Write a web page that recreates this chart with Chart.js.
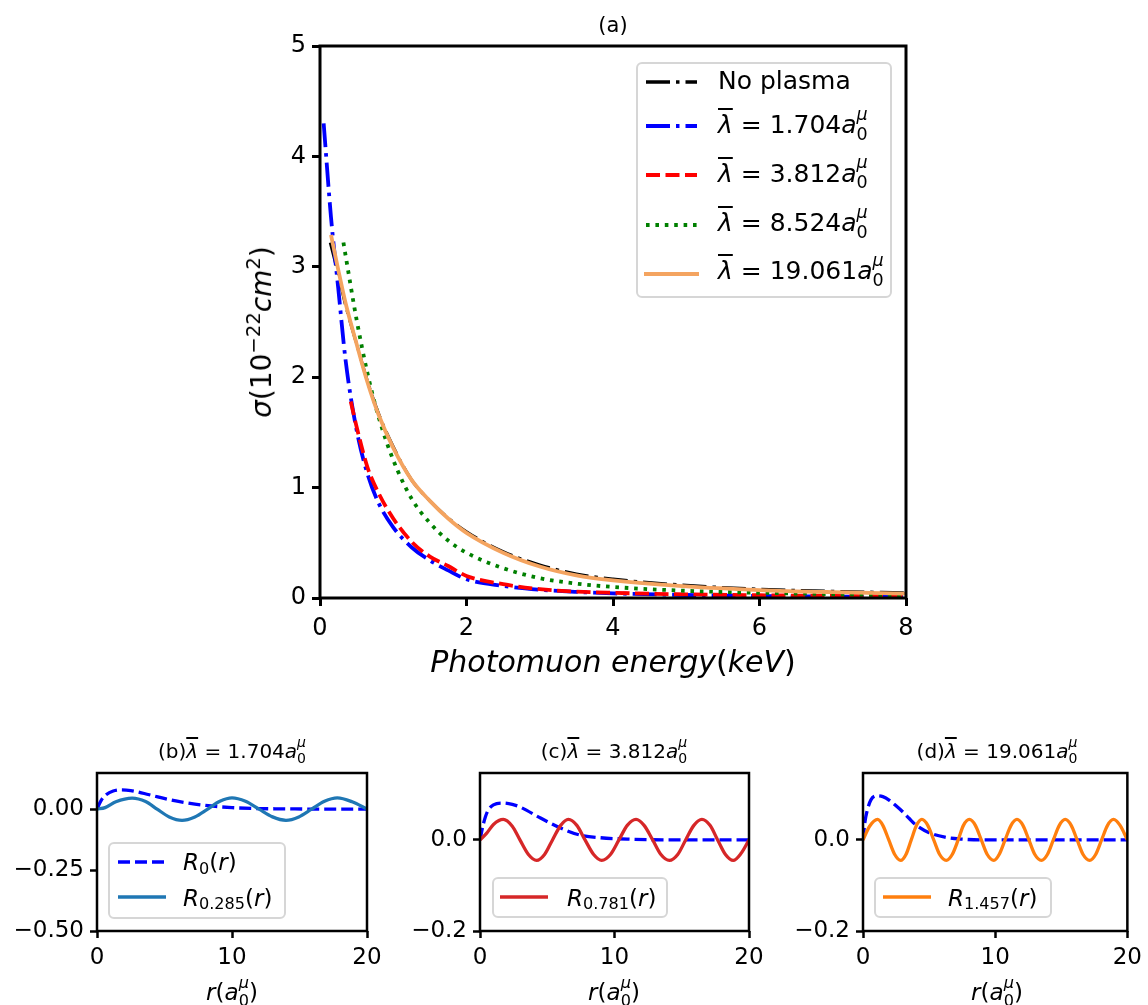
<!DOCTYPE html>
<html><head><meta charset="utf-8">
<script src="https://cdn.jsdelivr.net/npm/chart.js"></script>
<style>
html,body{margin:0;padding:0;background:#fff;}
body{width:1148px;height:1005px;position:relative;overflow:hidden;font-family:"DejaVu Sans",sans-serif;color:#000;}
canvas{position:absolute;}
.tx{position:absolute;white-space:nowrap;line-height:2;}
.c{transform:translateX(-50%);}
i{font-style:italic;}
.sup{font-size:0.7em;position:relative;top:-0.55em;}
.sub{font-size:0.7em;position:relative;top:0.22em;}
.ss{display:inline-block;font-size:0.7em;line-height:1.15;vertical-align:-0.38em;}
.ss span{display:block;}
.ov{text-decoration:overline;text-decoration-thickness:2px;}
.leg{position:absolute;border:2px solid #d6d6d6;border-radius:6px;background:rgba(255,255,255,0.85);box-sizing:border-box;}
svg{position:absolute;overflow:visible;}
</style></head>
<body>
<canvas id="cA" width="740" height="700" style="left:200px;top:0px"></canvas>
<canvas id="cB" width="400" height="230" style="left:0px;top:740px"></canvas>
<canvas id="cC" width="380" height="230" style="left:400px;top:740px"></canvas>
<canvas id="cD" width="368" height="230" style="left:780px;top:740px"></canvas>

<!-- main texts -->
<div class="tx c" style="left:613px;top:4px;font-size:21px">(a)</div>
<div class="tx c" style="left:613px;top:632px;font-size:30px"><i>Photomuon energy</i>(<i>keV</i>)</div>
<div class="tx" style="left:262px;top:332px;font-size:28px;transform:translate(-50%,-50%) rotate(-90deg)"><i>σ</i>(10<span class="sup">−22</span><i>cm</i><span class="sup">2</span>)</div>

<!-- main legend -->
<div class="leg" style="left:636px;top:62px;width:256px;height:236px"></div>
<svg style="left:646px;top:77px" width="51" height="10"><line x1="0" y1="5" x2="51" y2="5" stroke="#000" stroke-width="3.6" stroke-dasharray="24 6 3.5 6"/></svg>
<svg style="left:646px;top:121px" width="51" height="10"><line x1="0" y1="5" x2="51" y2="5" stroke="#0000ff" stroke-width="3.8" stroke-dasharray="24 6 3.5 6"/></svg>
<svg style="left:646px;top:170px" width="51" height="10"><line x1="0" y1="5" x2="51" y2="5" stroke="#ff0000" stroke-width="3.8" stroke-dasharray="14 5.5"/></svg>
<svg style="left:646px;top:219.5px" width="51" height="10"><line x1="0" y1="5" x2="51" y2="5" stroke="#008000" stroke-width="3.8" stroke-dasharray="3.6 5.8"/></svg>
<svg style="left:644px;top:268.5px" width="55" height="10"><line x1="0" y1="5" x2="55" y2="5" stroke="#f4a460" stroke-width="3.8"/></svg>
<div class="tx" style="left:718px;top:56px;font-size:25px">No plasma</div>
<div class="tx" style="left:718px;top:100px;font-size:25px"><i class="ov">λ</i> = 1.704<i>a</i><span class="ss"><span><i>μ</i></span><span>0</span></span></div>
<div class="tx" style="left:718px;top:148.6px;font-size:25px"><i class="ov">λ</i> = 3.812<i>a</i><span class="ss"><span><i>μ</i></span><span>0</span></span></div>
<div class="tx" style="left:718px;top:198px;font-size:25px"><i class="ov">λ</i> = 8.524<i>a</i><span class="ss"><span><i>μ</i></span><span>0</span></span></div>
<div class="tx" style="left:718px;top:246px;font-size:25px"><i class="ov">λ</i> = 19.061<i>a</i><span class="ss"><span><i>μ</i></span><span>0</span></span></div>

<!-- bottom titles -->
<div class="tx c" style="left:232px;top:731px;font-size:20px">(b)<i class="ov">λ</i> = 1.704<i>a</i><span class="ss"><span><i>μ</i></span><span>0</span></span></div>
<div class="tx c" style="left:614px;top:731px;font-size:20px">(c)<i class="ov">λ</i> = 3.812<i>a</i><span class="ss"><span><i>μ</i></span><span>0</span></span></div>
<div class="tx c" style="left:997px;top:731px;font-size:20px">(d)<i class="ov">λ</i> = 19.061<i>a</i><span class="ss"><span><i>μ</i></span><span>0</span></span></div>

<!-- bottom x labels -->
<div class="tx c" style="left:232px;top:969px;font-size:23px"><i>r</i>(<i>a</i><span class="ss"><span><i>μ</i></span><span>0</span></span>)</div>
<div class="tx c" style="left:614px;top:969px;font-size:23px"><i>r</i>(<i>a</i><span class="ss"><span><i>μ</i></span><span>0</span></span>)</div>
<div class="tx c" style="left:997px;top:969px;font-size:23px"><i>r</i>(<i>a</i><span class="ss"><span><i>μ</i></span><span>0</span></span>)</div>

<!-- bottom legends -->
<div class="leg" style="left:108px;top:842px;width:178px;height:77px"></div>
<svg style="left:118px;top:857px" width="48" height="10"><line x1="0" y1="5" x2="48" y2="5" stroke="#0000ff" stroke-width="3.3" stroke-dasharray="12 5"/></svg>
<svg style="left:118px;top:892px" width="48" height="10"><line x1="0" y1="5" x2="48" y2="5" stroke="#1f77b4" stroke-width="3.3"/></svg>
<div class="tx" style="left:183px;top:839px;font-size:23px"><i>R</i><span class="sub">0</span>(<i>r</i>)</div>
<div class="tx" style="left:183px;top:874.7px;font-size:23px"><i>R</i><span class="sub">0.285</span>(<i>r</i>)</div>

<div class="leg" style="left:492px;top:877px;width:176px;height:41px"></div>
<svg style="left:500px;top:892px" width="48" height="10"><line x1="0" y1="5" x2="48" y2="5" stroke="#d62728" stroke-width="3.3"/></svg>
<div class="tx" style="left:567px;top:874.7px;font-size:23px"><i>R</i><span class="sub">0.781</span>(<i>r</i>)</div>

<div class="leg" style="left:874px;top:877px;width:178px;height:41px"></div>
<svg style="left:883px;top:892px" width="48" height="10"><line x1="0" y1="5" x2="48" y2="5" stroke="#ff7f0e" stroke-width="3.3"/></svg>
<div class="tx" style="left:948px;top:874.7px;font-size:23px"><i>R</i><span class="sub">1.457</span>(<i>r</i>)</div>

<script>
// ---------- data: panel (a) ----------
const energyNoPlasma = [0.14,0.25,0.35,0.5,0.65,0.8,1.0,1.25,1.5,1.75,2.0,2.5,3.0,3.5,4.0,5.0,6.0,7.0,8.0];
const sigmaNoPlasma  = [3.22,2.93,2.65,2.30,1.96,1.67,1.37,1.07,0.88,0.725,0.60,0.42,0.30,0.218,0.172,0.115,0.081,0.061,0.047];
const energyL1704 = [0.05,0.15,0.25,0.35,0.5,0.65,0.8,1.0,1.25,1.5,1.75,2.0,2.5,3.0,3.5,4.0,5.0,6.0,7.0,8.0];
const sigmaL1704  = [4.30,3.45,2.80,2.15,1.52,1.12,0.86,0.64,0.46,0.34,0.25,0.17,0.11,0.075,0.055,0.042,0.027,0.018,0.013,0.010];
const energyL3812 = [0.42,0.5,0.65,0.8,1.0,1.25,1.5,1.75,2.0,2.5,3.0,3.5,4.0,5.0,6.0,7.0,8.0];
const sigmaL3812  = [1.78,1.55,1.18,0.95,0.72,0.51,0.375,0.29,0.20,0.125,0.08,0.058,0.047,0.033,0.025,0.019,0.015];
const energyL8524 = [0.32,0.35,0.5,0.65,0.8,1.0,1.25,1.5,1.75,2.0,2.5,3.0,3.5,4.0,5.0,6.0,7.0,8.0];
const sigmaL8524  = [3.22,3.10,2.52,2.03,1.64,1.25,0.90,0.68,0.52,0.41,0.27,0.18,0.13,0.10,0.065,0.047,0.035,0.025];
const energyL19061 = [0.15,0.25,0.35,0.5,0.65,0.8,1.0,1.25,1.5,1.75,2.0,2.5,3.0,3.5,4.0,5.0,6.0,7.0,8.0];
const sigmaL19061  = [3.29,2.97,2.67,2.30,1.95,1.66,1.36,1.07,0.88,0.72,0.59,0.41,0.285,0.205,0.16,0.105,0.072,0.053,0.040];
const ticksAx = [0,2,4,6,8];       const labelsAx = ['0','2','4','6','8'];
const ticksAy = [0,1,2,3,4,5];     const labelsAy = ['0','1','2','3','4','5'];

// ---------- data: panel (b) ----------
const rB0 = [0,0.3,0.7,1.2,1.8,2.5,3.5,4.5,5.5,6.5,8,10,12,14,16,18,20];
const yB0 = [0,0.035,0.06,0.074,0.079,0.076,0.064,0.05,0.037,0.027,0.015,0.006,0.002,0.001,0,0,0];
const rB285 = [0,0.6,1.4,2.6,3.6,4.45,5.35,6.3,7.25,8.2,9.1,10.0,11.0,12.0,13.0,14.0,14.95,15.9,16.85,17.8,18.9,20];
const yB285 = [0,0.006,0.03,0.045,0.031,0,-0.032,-0.046,-0.032,0,0.032,0.046,0.032,0,-0.032,-0.046,-0.032,0,0.032,0.046,0.03,0];
const ticksBy = [-0.5,-0.25,0];  const labelsBy = ['\u22120.50','\u22120.25','0.00'];

// ---------- data: panel (c) ----------
const rC0 = [0,0.25,0.55,1.0,1.7,2.4,3.0,4.5,6.0,7.4,8.9,11.4,14,17,20];
const yC0 = [0,0.035,0.062,0.077,0.081,0.078,0.072,0.048,0.026,0.011,0.005,0.0015,0,0,0];
const rC781 = [0,0.5,1.0,1.73,2.4,2.97,3.6,4.21,4.8,5.39,6.0,6.57,7.2,7.81,8.45,9.05,9.7,10.33,10.95,11.6,12.2,12.84,13.45,14.08,14.7,15.29,15.9,16.5,17.1,17.67,18.25,18.83,19.4,20];
const yC781 = [0,0.015,0.034,0.045,0.03,0,-0.032,-0.045,-0.032,0,0.032,0.045,0.032,0,-0.032,-0.045,-0.032,0,0.032,0.045,0.032,0,-0.032,-0.045,-0.032,0,0.032,0.045,0.032,0,-0.032,-0.045,-0.03,0];

// ---------- data: panel (d) ----------
const rD0 = [0,0.15,0.35,0.6,1.05,1.5,2.0,2.5,3.0,3.5,4.0,5.0,6.2,7.4,9,12,16,20];
const yD0 = [0,0.04,0.068,0.088,0.097,0.095,0.087,0.075,0.062,0.047,0.033,0.016,0.006,0.002,0,0,0,0];
const rD1457 = [0,0.5,1.1,1.5,1.95,2.4,2.85,3.25,3.65,4.05,4.45,4.9,5.35,5.8,6.3,6.75,7.2,7.6,8.05,8.5,8.95,9.4,9.9,10.3,10.75,11.2,11.65,12.1,12.55,13.0,13.5,13.95,14.4,14.85,15.3,15.75,16.2,16.65,17.15,17.6,18.05,18.5,18.95,19.45,20];
const yD1457 = [0,0.03,0.045,0.032,0,-0.032,-0.045,-0.032,0,0.032,0.045,0.032,0,-0.032,-0.045,-0.032,0,0.032,0.045,0.032,0,-0.032,-0.045,-0.032,0,0.032,0.045,0.032,0,-0.032,-0.045,-0.032,0,0.032,0.045,0.032,0,-0.032,-0.045,-0.032,0,0.032,0.045,0.032,0];
const ticksCDy = [-0.2,0];  const labelsCDy = ['\u22120.2','0.0'];
const ticksRx = [0,10,20];  const labelsRx = ['0','10','20'];

// ---------- helpers ----------
Chart.defaults.font.family = "'DejaVu Sans', sans-serif";
Chart.defaults.color = '#000';
Chart.defaults.animation = false;

function pts(xs, ys){ return xs.map((x,i)=>({x:x, y:ys[i]})); }
function framePlugin(w){
  return { id:'frame', afterDraw(chart){
    const {ctx, chartArea:a} = chart;
    ctx.save(); ctx.strokeStyle='#000'; ctx.lineWidth=w;
    ctx.strokeRect(a.left, a.top, a.right-a.left, a.bottom-a.top);
    ctx.restore();
  }};
}
function scale(o){
  return {
    type:'linear', min:o.min, max:o.max,
    afterBuildTicks(s){ s.ticks = o.ticks.map(v=>({value:v})); },
    afterFit(s){ if(o.isX) s.height = o.fit; else s.width = o.fit; },
    grid:{display:true, drawOnChartArea:false, drawTicks:true, tickLength:o.tl, tickWidth:o.tw, tickColor:'#000'},
    border:{display:false},
    ticks:{font:{size:o.fs}, color:'#000', padding:o.pad, maxRotation:0, minRotation:0, autoSkip:false,
      callback(v, i){ return o.labels[i]; }}
  };
}
function ds(xs, ys, color, w, dash, order){
  return {data:pts(xs,ys), borderColor:color, borderWidth:w, borderDash:dash, pointRadius:0,
    fill:false, cubicInterpolationMode:'monotone', order:order};
}
function make(id, datasets, xs, ys, pad, fw){
  new Chart(document.getElementById(id), {
    type:'line',
    data:{datasets:datasets},
    options:{
      responsive:false, animation:false, devicePixelRatio:1,
      layout:{padding:pad},
      plugins:{legend:{display:false}, tooltip:{enabled:false}},
      scales:{x:xs, y:ys}
    },
    plugins:[framePlugin(fw)]
  });
}

// ---------- panel (a) ----------
const DD = [24,6,3.5,6];
make('cA', [
  ds(energyNoPlasma, sigmaNoPlasma, '#000000', 3.0, DD, 5),
  ds(energyL1704, sigmaL1704, '#0000ff', 3.8, DD, 4),
  ds(energyL3812, sigmaL3812, '#ff0000', 3.8, [14,5.5], 3),
  ds(energyL8524, sigmaL8524, '#008000', 3.8, [3.6,5.8], 2),
  ds(energyL19061, sigmaL19061, '#f4a460', 3.8, [], 1)
],
  scale({min:0,max:8,ticks:ticksAx,labels:labelsAx,fs:24,tl:8,tw:3,pad:8,fit:102,isX:true}),
  scale({min:0,max:5,ticks:ticksAy,labels:labelsAy,fs:24,tl:8,tw:3,pad:6,fit:120,isX:false}),
  {left:0,right:34,top:46,bottom:0}, 3);

// ---------- panel (b) ----------
make('cB', [
  ds(rB0, yB0, '#0000ff', 3.3, [12,5], 2),
  ds(rB285, yB285, '#1f77b4', 3.3, [], 1)
],
  scale({min:0,max:20,ticks:ticksRx,labels:labelsRx,fs:23,tl:7,tw:2.5,pad:6,fit:39,isX:true}),
  scale({min:-0.5,max:0.148,ticks:ticksBy,labels:labelsBy,fs:23,tl:7,tw:2.5,pad:6,fit:97,isX:false}),
  {left:0,right:33,top:33,bottom:0}, 2.5);

// ---------- panel (c) ----------
make('cC', [
  ds(rC0, yC0, '#0000ff', 3.3, [12,5], 2),
  ds(rC781, yC781, '#d62728', 3.3, [], 1)
],
  scale({min:0,max:20,ticks:ticksRx,labels:labelsRx,fs:23,tl:7,tw:2.5,pad:6,fit:39,isX:true}),
  scale({min:-0.2,max:0.147,ticks:ticksCDy,labels:labelsCDy,fs:23,tl:7,tw:2.5,pad:6,fit:80,isX:false}),
  {left:0,right:31,top:33,bottom:0}, 2.5);

// ---------- panel (d) ----------
make('cD', [
  ds(rD0, yD0, '#0000ff', 3.3, [12,5], 2),
  ds(rD1457, yD1457, '#ff7f0e', 3.3, [], 1)
],
  scale({min:0,max:20,ticks:ticksRx,labels:labelsRx,fs:23,tl:7,tw:2.5,pad:6,fit:39,isX:true}),
  scale({min:-0.2,max:0.147,ticks:ticksCDy,labels:labelsCDy,fs:23,tl:7,tw:2.5,pad:6,fit:83,isX:false}),
  {left:0,right:16,top:33,bottom:0}, 2.5);
</script>
</body></html>
